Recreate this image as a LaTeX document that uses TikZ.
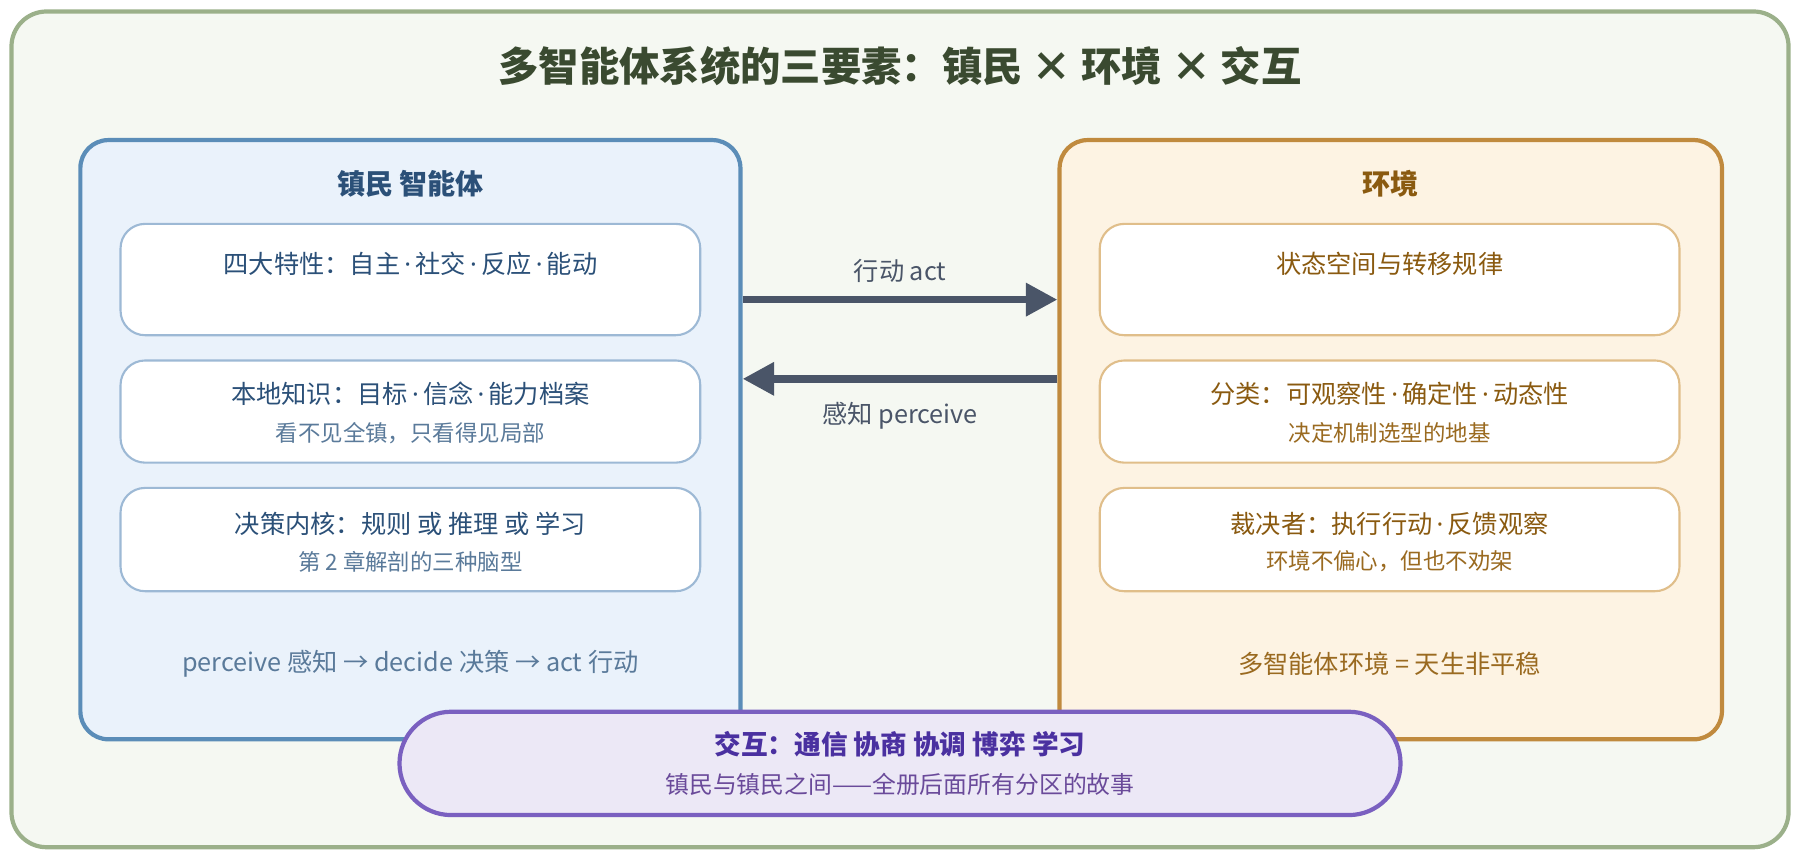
\documentclass[tikz,border=0pt]{standalone}
\usepackage{fontspec}
\setmainfont{Noto Sans CJK SC}
\newfontfamily\latinfont{Noto Sans}
\newcommand{\dotsep}{{\latinfont\,·\,}}
\usetikzlibrary{positioning,arrows.meta}
\definecolor{bgfill}{HTML}{F5F8F2}
\definecolor{bgline}{HTML}{9BB08A}
\definecolor{titlecol}{HTML}{3A4A30}
\definecolor{agfill}{HTML}{EAF2FB}
\definecolor{agline}{HTML}{5B8DB8}
\definecolor{agtext}{HTML}{2B5078}
\definecolor{agsub}{HTML}{5A7A9A}
\definecolor{agin}{HTML}{9DB9D5}
\definecolor{envfill}{HTML}{FDF3E3}
\definecolor{envline}{HTML}{C08A3E}
\definecolor{envtext}{HTML}{8A5A10}
\definecolor{envsub}{HTML}{9A6A20}
\definecolor{envin}{HTML}{E0BE8A}
\definecolor{infill}{HTML}{ECE8F6}
\definecolor{inline}{HTML}{7A60C0}
\definecolor{intext}{HTML}{4A30A0}
\definecolor{insub}{HTML}{6A4A9A}
\definecolor{arrowcol}{HTML}{4A5568}
\tikzset{
	bigbox/.style = {draw, line width = 1.2pt, rounded corners = 8pt, inner sep = 0pt},
	card/.style = {line width = 0.6pt, fill = white, rounded corners = 7pt,
		minimum width = 505*0.0115cm, inner sep = 0pt},
	flow/.style = {line width = 2.2pt, arrowcol, -{Triangle[length = 9pt, width = 9pt]}},
	txt/.style = {font = \fontsize{7.2}{8}\selectfont, inner sep = 0pt},
	sub/.style = {font = \fontsize{6.4}{7}\selectfont, inner sep = 0pt},
}
\begin{document}
\begin{tikzpicture}[x = 0.0115cm, y = -0.0115cm]
	\useasboundingbox (0, 0) rectangle (1568, 749);
	\draw[bgline, fill = bgfill, line width = 1.2pt, rounded corners = 10pt] (10, 10) rectangle (1558, 738);
	\node[font = \bfseries\fontsize{11.5}{13}\selectfont, titlecol] (title) at (784, 58) {多智能体系统的三要素：镇民 × 环境 × 交互};
	
	% agent side
	\node[bigbox, agline, fill = agfill, minimum width = 575*0.0115cm, minimum height = 522*0.0115cm] (agent) at (357.5, 383) {};
	\node[txt, font = \bfseries\fontsize{8}{9}\selectfont, agtext] (agtitle) at (357.5, 160) {镇民 智能体};
	\node[card, draw = agin, minimum height = 97*0.0115cm] (ag1) at (357.5, 243.5) {};
	\node[card, draw = agin, minimum height = 89*0.0115cm] (ag2) at (357.5, 358.5) {};
	\node[card, draw = agin, minimum height = 90*0.0115cm] (ag3) at (357.5, 470) {};
	\node[txt, agtext] (ag1a) at (357.5, 230) {四大特性：自主\dotsep 社交\dotsep 反应\dotsep 能动};
	\node[txt, agtext] (ag2a) at (357.5, 343) {本地知识：目标\dotsep 信念\dotsep 能力档案};
	\node[sub, agsub] (ag2b) at (357.5, 377) {看不见全镇，只看得见局部};
	\node[txt, agtext] (ag3a) at (357.5, 456) {决策内核：规则 或 推理 或 学习};
	\node[sub, agsub] (ag3b) at (357.5, 489) {第 2 章解剖的三种脑型};
	\node[txt, agsub] (agfoot) at (357.5, 578) {perceive 感知 → decide 决策 → act 行动};
	
	% environment side
	\node[bigbox, envline, fill = envfill, minimum width = 577*0.0115cm, minimum height = 522*0.0115cm] (env) at (1211.5, 383) {};
	\node[txt, font = \bfseries\fontsize{8}{9}\selectfont, envtext] (envtitle) at (1211.5, 160) {环境};
	\node[card, draw = envin, minimum height = 97*0.0115cm] (env1) at (1210.5, 243.5) {};
	\node[card, draw = envin, minimum height = 89*0.0115cm] (env2) at (1210.5, 358.5) {};
	\node[card, draw = envin, minimum height = 90*0.0115cm] (env3) at (1210.5, 470) {};
	\node[txt, envtext] (env1a) at (1210.5, 230) {状态空间与转移规律};
	\node[txt, envtext] (env2a) at (1210.5, 343) {分类：可观察性\dotsep 确定性\dotsep 动态性};
	\node[sub, envsub] (env2b) at (1210.5, 377) {决定机制选型的地基};
	\node[txt, envtext] (env3a) at (1210.5, 456) {裁决者：执行行动\dotsep 反馈观察};
	\node[sub, envsub] (env3b) at (1210.5, 489) {环境不偏心，但也不劝架};
	\node[txt, envsub] (envfoot) at (1210.5, 578) {多智能体环境 = 天生非平稳};
	
	% flows
	\draw[flow] (agent.east |- 0, 261) -- (env.west |- 0, 261);
	\draw[flow] (env.west |- 0, 330) -- (agent.east |- 0, 330);
	\node[txt, arrowcol] (actlbl) at (784, 236) {行动 act};
	\node[txt, arrowcol] (perlbl) at (784, 362) {感知 perceive};
	
	% interaction
	\node[draw, inline, fill = infill, line width = 1.2pt, rounded corners = 45*0.0115cm,
		minimum width = 872*0.0115cm, minimum height = 90*0.0115cm] (inter) at (784, 665) {};
	\node[txt, font = \bfseries\fontsize{7.6}{9}\selectfont, intext] (intera) at (784, 648) {交互：通信 协商 协调 博弈 学习};
	\node[sub, font = \fontsize{6.8}{8}\selectfont, insub] (interb) at (784, 683) {镇民与镇民之间——全册后面所有分区的故事};
\end{tikzpicture}
\end{document}
